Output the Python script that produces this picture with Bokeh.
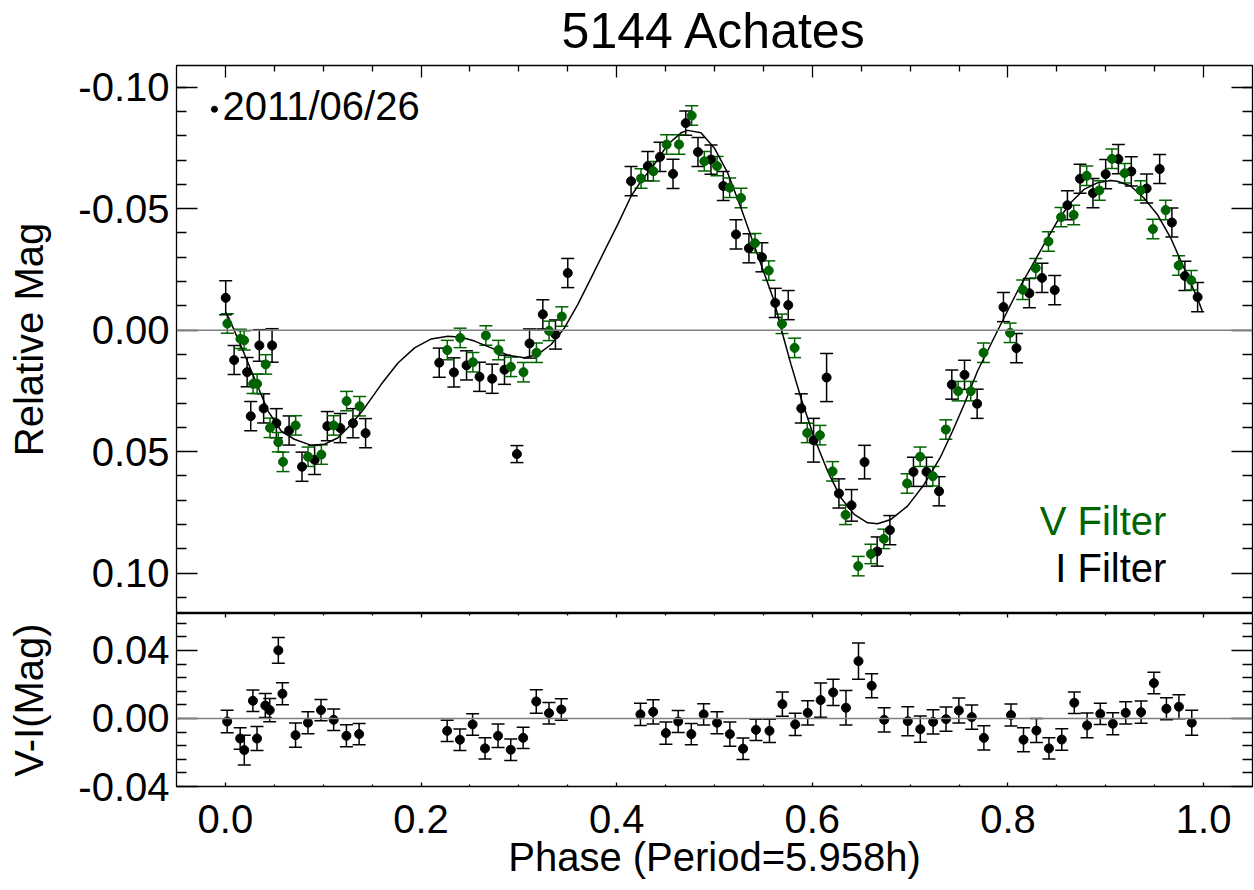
from bokeh.plotting import figure
from bokeh.layouts import column
from bokeh.models import (Range1d, LinearAxis, FixedTicker, PrintfTickFormatter, CustomJSTickFormatter,
                          Whisker, TeeHead, ColumnDataSource, Span, Label)
from bokeh.embed import file_html
from bokeh.resources import INLINE

FONT = "Liberation Sans"
GREEN = "#006400"

# ---------------- data ----------------
title_text = "5144 Achates"
date_text = "2011/06/26"
v_label = "V Filter"
i_label = "I Filter"
x_title = "Phase (Period=5.958h)"
y_title_top = "Relative Mag"
y_title_bot = "V-I(Mag)"

# I filter (black)
i_phase = [0.0003, 0.0089, 0.0222, 0.0259, 0.0347, 0.0391, 0.0477, 0.0521, 0.0651, 0.0783,
           0.0912, 0.1042, 0.1175, 0.1304, 0.1433,
           0.2186, 0.2336, 0.2465, 0.2598, 0.2727, 0.2853, 0.2980, 0.3109, 0.3245, 0.3374, 0.3500,
           0.4147, 0.4318, 0.4443, 0.4576, 0.4706, 0.4831, 0.4964, 0.5090, 0.5220, 0.5352, 0.5485,
           0.5621, 0.5754, 0.5887, 0.6013, 0.6146, 0.6272, 0.6401, 0.6534, 0.6663, 0.6793,
           0.7034, 0.7167, 0.7296, 0.7426, 0.7556, 0.7685,
           0.7954, 0.8087, 0.8219, 0.8348, 0.8478, 0.8608, 0.8737, 0.8869, 0.8999, 0.9129,
           0.9261, 0.9418, 0.9551, 0.9676, 0.9809, 0.9939]
i_mag = [-0.0133, 0.0123, 0.0173, 0.0354, 0.0063, 0.0322, 0.0063, 0.0383, 0.0413, 0.0562,
         0.0534, 0.0395, 0.0403, 0.0383, 0.0424,
         0.0134, 0.0174, 0.0145, 0.0192, 0.0200, 0.0163, 0.0510, 0.0055, -0.0065, 0.0018, -0.0235,
         -0.0613, -0.0675, -0.0713, -0.0643, -0.0852, -0.0733, -0.0702, -0.0593, -0.0394, -0.0337, -0.0300,
         -0.0112, -0.0103, 0.0322, 0.0453, 0.0195, 0.0672, 0.0721, 0.0543, 0.0911, 0.0823,
         0.0583, 0.0583, 0.0663, 0.0224, 0.0184, 0.0303,
         -0.0095, 0.0074, -0.0152, -0.0215, -0.0165, -0.0514, -0.0623, -0.0564, -0.0642, -0.0704,
         -0.0653, -0.0583, -0.0663, -0.0443, -0.0223, -0.0136]
i_err = [0.0070, 0.0060, 0.0060, 0.0060, 0.0065, 0.0060, 0.0069, 0.0060, 0.0060, 0.0060,
         0.0060, 0.0060, 0.0060, 0.0060, 0.0060,
         0.0060, 0.0060, 0.0060, 0.0060, 0.0060, 0.0060, 0.0035, 0.0060, 0.0060, 0.0060, 0.0060,
         0.0060, 0.0060, 0.0060, 0.0060, 0.0050, 0.0060, 0.0060, 0.0060, 0.0060, 0.0060, 0.0060,
         0.0060, 0.0060, 0.0060, 0.0090, 0.0099, 0.0060, 0.0065, 0.0069, 0.0060, 0.0060,
         0.0060, 0.0060, 0.0060, 0.0060, 0.0060, 0.0060,
         0.0060, 0.0060, 0.0060, 0.0060, 0.0060, 0.0060, 0.0060, 0.0060, 0.0060, 0.0060,
         0.0060, 0.0060, 0.0060, 0.0060, 0.0060, 0.0060]

# V filter (green)
v_phase = [0.0020, 0.0153, 0.0191, 0.0283, 0.0324, 0.0412, 0.0456, 0.0541, 0.0589, 0.0718,
           0.0845, 0.0981, 0.1106, 0.1239, 0.1372,
           0.2268, 0.2400, 0.2530, 0.2663, 0.2792, 0.2918, 0.3047, 0.3180, 0.3309, 0.3439,
           0.4249, 0.4375, 0.4511, 0.4637, 0.4767, 0.4896, 0.5026, 0.5155, 0.5271, 0.5414, 0.5555,
           0.5690, 0.5819, 0.5948, 0.6078, 0.6207, 0.6340, 0.6469, 0.6599, 0.6731,
           0.6969, 0.7102, 0.7232, 0.7365, 0.7491, 0.7620, 0.7750,
           0.8022, 0.8151, 0.8284, 0.8414, 0.8543, 0.8672, 0.8805, 0.8934, 0.9063, 0.9193,
           0.9357, 0.9482, 0.9612, 0.9745, 0.9874]
v_mag = [-0.0027, 0.0036, 0.0042, 0.0221, 0.0221, 0.0141, 0.0402, 0.0461, 0.0542, 0.0392,
         0.0521, 0.0512, 0.0392, 0.0292, 0.0313,
         0.0082, 0.0032, 0.0132, 0.0022, 0.0082, 0.0151, 0.0173, 0.0093, 0.0003, -0.0056,
         -0.0624, -0.0654, -0.0764, -0.0764, -0.0883, -0.0695, -0.0675, -0.0586, -0.0544, -0.0358, -0.0245,
         -0.0026, 0.0073, 0.0423, 0.0432, 0.0581, 0.0760, 0.0971, 0.0921, 0.0859,
         0.0631, 0.0521, 0.0601, 0.0409, 0.0251, 0.0251, 0.0093,
         0.0011, -0.0166, -0.0255, -0.0365, -0.0465, -0.0474, -0.0635, -0.0575, -0.0705, -0.0646,
         -0.0575, -0.0416, -0.0494, -0.0266, -0.0205]
v_err = [0.0040] * len(v_phase)

# V-I colour
vi_phase = [0.0018, 0.0151, 0.0193, 0.0281, 0.0323, 0.0408, 0.0453, 0.0541, 0.0583, 0.0717,
            0.0844, 0.0977, 0.1107, 0.1237, 0.1367,
            0.2267, 0.2397, 0.2527, 0.2654, 0.2787, 0.2917, 0.3044, 0.3178, 0.3308, 0.3434,
            0.4243, 0.4373, 0.4503, 0.4629, 0.4763, 0.4889, 0.5026, 0.5157, 0.5292, 0.5424, 0.5562,
            0.5694, 0.5825, 0.5953, 0.6085, 0.6213, 0.6344, 0.6472, 0.6607, 0.6735,
            0.6976, 0.7104, 0.7235, 0.7367, 0.7498, 0.7630, 0.7754,
            0.8031, 0.8159, 0.8291, 0.8419, 0.8550, 0.8678, 0.8809, 0.8944, 0.9072, 0.9204,
            0.9361, 0.9492, 0.9620, 0.9748, 0.9879]
vi_val = [-0.0018, -0.0118, -0.0186, 0.0104, -0.0118, 0.0076, 0.0049, 0.0400, 0.0145, -0.0098,
          -0.0025, 0.0049, -0.0008, -0.0102, -0.0092,
          -0.0073, -0.0125, -0.0035, -0.0176, -0.0102, -0.0184, -0.0114, 0.0100, 0.0031, 0.0053,
          0.0024, 0.0039, -0.0086, -0.0018, -0.0092, 0.0024, -0.0025, -0.0092, -0.0178, -0.0067, -0.0073,
          0.0084, -0.0035, 0.0033, 0.0108, 0.0153, 0.0063, 0.0337, 0.0192, -0.0008,
          -0.0016, -0.0063, -0.0020, -0.0004, 0.0047, 0.0008, -0.0114,
          0.0020, -0.0125, -0.0071, -0.0176, -0.0124, 0.0092, -0.0041, 0.0027, -0.0031, 0.0033,
          0.0037, 0.0208, 0.0057, 0.0069, -0.0025]
vi_err = [0.0066, 0.0063, 0.0088, 0.0063, 0.0071, 0.0071, 0.0069, 0.0076, 0.0065, 0.0071,
          0.0065, 0.0063, 0.0063, 0.0065, 0.0063,
          0.0063, 0.0063, 0.0063, 0.0063, 0.0069, 0.0063, 0.0063, 0.0069, 0.0063, 0.0063,
          0.0065, 0.0071, 0.0065, 0.0065, 0.0063, 0.0063, 0.0065, 0.0071, 0.0063, 0.0063, 0.0069,
          0.0071, 0.0065, 0.0071, 0.0101, 0.0077, 0.0101, 0.0107, 0.0071, 0.0071,
          0.0085, 0.0077, 0.0071, 0.0071, 0.0073, 0.0071, 0.0071,
          0.0065, 0.0071, 0.0071, 0.0063, 0.0063, 0.0063, 0.0073, 0.0063, 0.0065, 0.0065,
          0.0065, 0.0063, 0.0065, 0.0071, 0.0073]

# fitted light curve
fit_phase = [0.0000, 0.0041, 0.0181, 0.0296, 0.0436, 0.0572, 0.0705, 0.0878, 0.1011, 0.1151,
             0.1287, 0.1423, 0.1593, 0.1764, 0.1934, 0.2104, 0.2275, 0.2411, 0.2547, 0.2717,
             0.2888, 0.3057, 0.3194, 0.3330, 0.3466, 0.3603, 0.3739, 0.3874, 0.4011, 0.4147,
             0.4249, 0.4385, 0.4522, 0.4658, 0.4726, 0.4862, 0.4998, 0.5135, 0.5271, 0.5440,
             0.5611, 0.5679, 0.5782, 0.5884, 0.6019, 0.6156, 0.6292, 0.6428, 0.6565, 0.6667,
             0.6803, 0.6973, 0.7143, 0.7245, 0.7314, 0.7433, 0.7552, 0.7688, 0.7824, 0.7960,
             0.8097, 0.8233, 0.8369, 0.8506, 0.8641, 0.8777, 0.8914, 0.9050, 0.9118, 0.9254,
             0.9390, 0.9527, 0.9663, 0.9799, 0.9936, 0.9987]
fit_mag = [-0.0074, -0.0045, 0.0086, 0.0198, 0.0333, 0.0416, 0.0449, 0.0474, 0.0470, 0.0443,
           0.0387, 0.0320, 0.0223, 0.0135, 0.0073, 0.0036, 0.0025, 0.0029, 0.0045, 0.0073,
           0.0103, 0.0114, 0.0100, 0.0059, -0.0009, -0.0106, -0.0215, -0.0325, -0.0435, -0.0551,
           -0.0613, -0.0682, -0.0764, -0.0812, -0.0822, -0.0812, -0.0750, -0.0647, -0.0503, -0.0310,
           -0.0119, -0.0009, 0.0141, 0.0279, 0.0443, 0.0580, 0.0690, 0.0758, 0.0793, 0.0797,
           0.0779, 0.0724, 0.0635, 0.0567, 0.0519, 0.0416, 0.0306, 0.0169, 0.0059, -0.0051,
           -0.0160, -0.0256, -0.0353, -0.0449, -0.0524, -0.0579, -0.0606, -0.0616, -0.0613, -0.0593,
           -0.0544, -0.0476, -0.0380, -0.0256, -0.0133, -0.0078]

# axes
x_ticks = [0.0, 0.2, 0.4, 0.6, 0.8, 1.0]
x_minor = [0.05, 0.10, 0.15, 0.25, 0.30, 0.35, 0.45, 0.50, 0.55, 0.65, 0.70, 0.75, 0.85, 0.90, 0.95]
y_ticks_top = [-0.10, -0.05, 0.00, 0.05, 0.10]
y_minor_top = [-0.10, -0.09, -0.08, -0.07, -0.06, -0.04, -0.03, -0.02, -0.01,
               0.01, 0.02, 0.03, 0.04, 0.06, 0.07, 0.08, 0.09, 0.11]
y_ticks_bot = [-0.04, 0.00, 0.04]
y_minor_bot = [-0.032, -0.024, -0.016, -0.008, 0.008, 0.016, 0.024, 0.032, 0.048, 0.056]
x_lim = (-0.05, 1.05)
y_lim_top = (0.1166, -0.1089)
y_lim_bot = (-0.04, 0.0617)

# ---------------- figures ----------------
FS = "40px"
x_range = Range1d(*x_lim)
BLANK = CustomJSTickFormatter(code="return ''")


def style_axis(ax, tick_in, minor_in, labels=True):
    ax.axis_line_color = None
    ax.major_tick_in = tick_in
    ax.major_tick_out = 0
    ax.minor_tick_in = minor_in
    ax.minor_tick_out = 0
    ax.major_tick_line_color = "black"
    ax.minor_tick_line_color = "black"
    ax.major_tick_line_width = 1.3
    ax.minor_tick_line_width = 1.3
    ax.major_label_text_font = FONT
    ax.major_label_text_color = "black"
    if labels:
        ax.major_label_text_font_size = FS
    else:
        ax.formatter = BLANK
        ax.major_label_text_font_size = "1px"
        ax.major_label_standoff = 0
    ax.axis_label_text_font = FONT
    ax.axis_label_text_font_size = FS
    ax.axis_label_text_font_style = "normal"
    ax.axis_label_text_color = "black"


def make_fig(y_range, fh, top, bottom, outline=True):
    p = figure(x_range=x_range, y_range=y_range, frame_width=1076, frame_height=fh,
               min_border_left=176, min_border_right=2, min_border_top=top, min_border_bottom=bottom,
               x_axis_location=None, y_axis_location=None, title=None,
               toolbar_location=None, output_backend="svg")
    p.grid.visible = False
    p.outline_line_color = "black" if outline else None
    p.outline_line_width = 1.3
    p.background_fill_color = "white"
    p.border_fill_color = "white"
    return p


# title strip (pixel-like coordinates, 0 at top)
p0 = make_fig(Range1d(63, 0), 63, 0, 0, outline=False)
p0.add_layout(Label(x=0.5, y=30, text=title_text, text_font=FONT, text_font_size="50px",
                    text_color="black", text_align="center", text_baseline="middle"))

# top panel
p1 = make_fig(Range1d(*y_lim_top), 548, 2, 0)
yl = LinearAxis(ticker=FixedTicker(ticks=y_ticks_top, minor_ticks=y_minor_top),
                formatter=PrintfTickFormatter(format="%.2f"), axis_label=y_title_top)
style_axis(yl, 21, 10)
yl.major_label_standoff = 7
yl.axis_label_standoff = 24
p1.add_layout(yl, "left")
yr = LinearAxis(ticker=FixedTicker(ticks=y_ticks_top, minor_ticks=y_minor_top))
style_axis(yr, 21, 10, labels=False)
p1.add_layout(yr, "right")
xt = LinearAxis(ticker=FixedTicker(ticks=x_ticks, minor_ticks=x_minor))
style_axis(xt, 12, 6, labels=False)
p1.add_layout(xt, "above")

p1.add_layout(Span(location=0, dimension="width", line_color="#808080", line_width=1.5))
p1.line(fit_phase, fit_mag, line_color="black", line_width=1.5)

src_i = ColumnDataSource(dict(x=i_phase, y=i_mag,
                              lo=[m - e for m, e in zip(i_mag, i_err)],
                              up=[m + e for m, e in zip(i_mag, i_err)]))
src_v = ColumnDataSource(dict(x=v_phase, y=v_mag,
                              lo=[m - e for m, e in zip(v_mag, v_err)],
                              up=[m + e for m, e in zip(v_mag, v_err)]))
for src, col in ((src_i, "black"), (src_v, GREEN)):
    p1.add_layout(Whisker(source=src, base="x", upper="up", lower="lo", dimension="height",
                          line_color=col, line_width=1.5,
                          upper_head=TeeHead(size=13, line_color=col, line_width=1.5),
                          lower_head=TeeHead(size=13, line_color=col, line_width=1.5)))
    p1.scatter("x", "y", source=src, size=9, fill_color=col, line_color=col)

# legend / labels (top panel)
p1.scatter([-0.0112], [-0.0909], size=6, fill_color="black", line_color="black")
p1.add_layout(Label(x=-0.003, y=-0.0922, text=date_text, text_font=FONT, text_font_size=FS,
                    text_color="black", text_align="left", text_baseline="alphabetic"))
p1.add_layout(Label(x=0.962, y=0.0786, text=v_label, text_font=FONT, text_font_size=FS,
                    text_color=GREEN, text_align="right", text_baseline="alphabetic"))
p1.add_layout(Label(x=0.962, y=0.0979, text=i_label, text_font=FONT, text_font_size=FS,
                    text_color="black", text_align="right", text_baseline="alphabetic"))

# bottom panel
p2 = make_fig(Range1d(*y_lim_bot), 173, 0, 104)
yl2 = LinearAxis(ticker=FixedTicker(ticks=y_ticks_bot, minor_ticks=y_minor_bot),
                 formatter=PrintfTickFormatter(format="%.2f"), axis_label=y_title_bot)
style_axis(yl2, 21, 10)
yl2.major_label_standoff = 7
yl2.axis_label_standoff = 24
p2.add_layout(yl2, "left")
yr2 = LinearAxis(ticker=FixedTicker(ticks=y_ticks_bot, minor_ticks=y_minor_bot))
style_axis(yr2, 21, 10, labels=False)
p2.add_layout(yr2, "right")
xt2 = LinearAxis(ticker=FixedTicker(ticks=x_ticks, minor_ticks=x_minor))
style_axis(xt2, 4, 2, labels=False)
p2.add_layout(xt2, "above")
xb2 = LinearAxis(ticker=FixedTicker(ticks=x_ticks, minor_ticks=x_minor),
                 formatter=PrintfTickFormatter(format="%.1f"), axis_label=x_title)
style_axis(xb2, 4, 2)
xb2.major_label_standoff = 18
xb2.axis_label_standoff = -1
p2.add_layout(xb2, "below")

p2.add_layout(Span(location=0, dimension="width", line_color="#808080", line_width=1.5))
src_vi = ColumnDataSource(dict(x=vi_phase, y=vi_val,
                               lo=[m - e for m, e in zip(vi_val, vi_err)],
                               up=[m + e for m, e in zip(vi_val, vi_err)]))
p2.add_layout(Whisker(source=src_vi, base="x", upper="up", lower="lo", dimension="height",
                      line_color="black", line_width=1.5,
                      upper_head=TeeHead(size=13, line_color="black", line_width=1.5),
                      lower_head=TeeHead(size=13, line_color="black", line_width=1.5)))
p2.scatter("x", "y", source=src_vi, size=9, fill_color="black", line_color="black")

layout = column(p0, p1, p2, spacing=0)
open("out.html", "w").write(file_html(layout, INLINE))
